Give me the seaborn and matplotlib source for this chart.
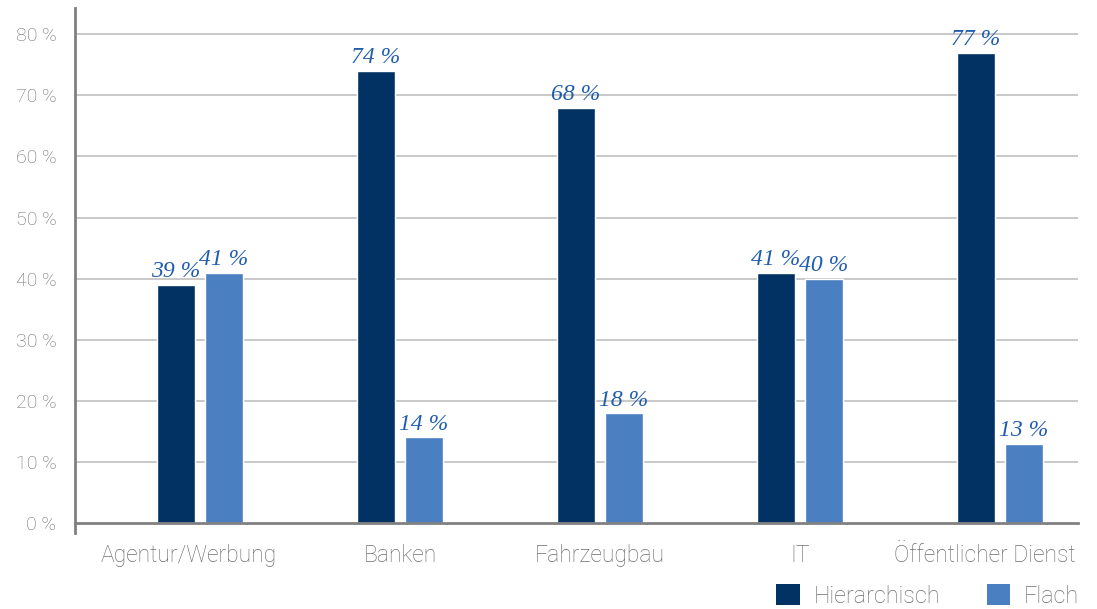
import matplotlib
matplotlib.use("Agg")
import matplotlib.pyplot as plt
import matplotlib.transforms as mtransforms
import seaborn as sns
import pandas as pd
from matplotlib.patches import Patch

categories = ["Agentur/Werbung", "Banken", "Fahrzeugbau", "IT", "Öffentlicher Dienst"]
hierarchisch = [39, 74, 68, 41, 77]
flach = [41, 14, 18, 40, 13]
series_names = ["Hierarchisch", "Flach"]
yticks = [0, 10, 20, 30, 40, 50, 60, 70, 80]
ytick_labels = ["0 %", "10 %", "20 %", "30 %", "40 %", "50 %", "60 %", "70 %", "80 %"]

colors = ["#023263", "#4a80c2"]
label_color = "#1f5cb0"
grey = "#808080"
text_grey = "#6e6e6e"

df = pd.DataFrame({
    "Kategorie": categories * 2,
    "Serie": [series_names[0]] * len(categories) + [series_names[1]] * len(categories),
    "Wert": hierarchisch + flach,
})

sns.set_theme(style="white")
plt.rcParams["font.family"] = ["Roboto", "DejaVu Sans"]

fig = plt.figure(figsize=(10.97, 6.09), dpi=100)
ax = fig.add_axes([75 / 1097, (609 - 523) / 609, (1078 - 75) / 1097, (523 - 8) / 609])

sns.barplot(data=df, x="Kategorie", y="Wert", hue="Serie", palette=colors,
            width=0.48, gap=0.2, ax=ax, legend=False, saturation=1)

ax.set_xlim(-0.625, 4.39)
ax.set_ylim(0, 84.3)
ax.set_yticks(yticks)
ax.set_yticklabels(ytick_labels)
ax.set_xlabel("")
ax.set_ylabel("")

for y in yticks[1:]:
    ax.axhline(y, color="#c0c0c0", lw=1.2, zorder=0)

for s in ["top", "right"]:
    ax.spines[s].set_visible(False)
ax.spines["left"].set_color(grey)
ax.spines["left"].set_linewidth(2)
ax.spines["bottom"].set_color(grey)
ax.spines["bottom"].set_linewidth(2)
ax.spines["left"].set_bounds(-1.7, 84.3)

ax.tick_params(axis="y", length=12, width=1.2, color="#c0c0c0", labelcolor=text_grey,
               labelsize=14, pad=1.5, direction="out")
ax.tick_params(axis="x", length=10, width=2, color=grey, labelcolor=text_grey,
               labelsize=16.5, pad=5, direction="out")
for t in ax.get_xticklabels() + ax.get_yticklabels():
    t.set_fontweight("light")

xl = ax.get_xticklabels()
shifts = {0: -11, 4: -15}
for i, dx in shifts.items():
    xl[i].set_transform(xl[i].get_transform() +
                        mtransforms.ScaledTranslation(dx / 100, 0, fig.dpi_scale_trans))

for cont in ax.containers:
    for bar in cont:
        h = bar.get_height()
        ax.text(bar.get_x() + bar.get_width() / 2, h + 0.4, f"{int(h)} %",
                ha="center", va="bottom", fontsize=17, style="italic",
                family=["Liberation Serif", "DejaVu Serif"], color=label_color)

handles = [Patch(facecolor=c, edgecolor="none") for c in colors]
leg = fig.legend(handles, series_names, loc="lower right", bbox_to_anchor=(1091 / 1097, -0.017),
                 ncol=2, frameon=False, fontsize=16.8, handlelength=1.0, handleheight=1.0,
                 columnspacing=2.0, handletextpad=0.6, borderaxespad=0.1)
for t in leg.get_texts():
    t.set_color(text_grey)
    t.set_fontweight("light")

fig.savefig("out.png", dpi=100)
